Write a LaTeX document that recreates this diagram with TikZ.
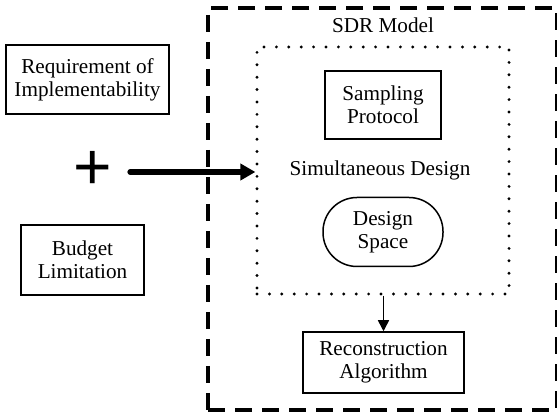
\documentclass[tikz,border=0pt]{standalone}
\usepackage{fontspec}
\setmainfont{Liberation Serif}
\newfontfamily\plusfont{Liberation Sans}
\usetikzlibrary{arrows.meta}
\begin{document}
\begin{tikzpicture}[x=0.5pt,y=-0.5pt,
  every node/.style={font=\fontsize{10.6}{11.6}\selectfont, align=center, inner sep=0pt},
  plainbox/.style={draw, line width=0.75pt},
  roundbox/.style={draw, line width=0.75pt, rounded corners=17pt},
  dashbox/.style={draw, line width=2pt, dash pattern=on 8.5pt off 5pt},
  dotbox/.style={draw, line width=1.6pt, line cap=round, dash pattern=on 0pt off 6.2pt},
  bigarrow/.style={line width=2.6pt, line cap=round, -{Triangle[length=7.5pt,width=8pt]}},
  thinarrow/.style={line width=0.75pt, -{Triangle[length=5.5pt,width=5.5pt]}}]
\useasboundingbox (0,0) rectangle (557,416);

% outer model frame and its title
\node[dashbox, minimum width=174.5pt, minimum height=201pt] (sdr) at (382.5,209) {};
\node (sdrlabel) at (383,25) {SDR Model};

% simultaneous design region
\node[dotbox, minimum width=126pt, minimum height=123.5pt] (sd) at (383,170.5) {};
\node (sdlabel) at (380,170) {Simultaneous Design};
\node[plainbox, minimum width=58pt, minimum height=34pt] (samp) at (383,105) {Sampling\\Protocol};
\node[roundbox, minimum width=60pt, minimum height=34.5pt] (space) at (383,232) {Design\\Space};

% reconstruction stage
\node[plainbox, minimum width=80.5pt, minimum height=30.5pt] (rec) at (383.5,362.5) {Reconstruction\\Algorithm};
\draw[thinarrow] (sd.south -| rec.north) -- (rec.north);

% inputs on the left
\node[plainbox, minimum width=81.5pt, minimum height=34.5pt] (req) at (87.5,79.5) {Requirement of\\Implementability};
\node[plainbox, minimum width=61.5pt, minimum height=35pt] (budget) at (82.5,260) {Budget\\Limitation};
\node[font=\plusfont\fontsize{33}{33}\selectfont] (plus) at (93,170) {+};

\coordinate (astart) at (130,172);
\draw[bigarrow] (astart) -- (astart -| sd.west);
\end{tikzpicture}
\end{document}
